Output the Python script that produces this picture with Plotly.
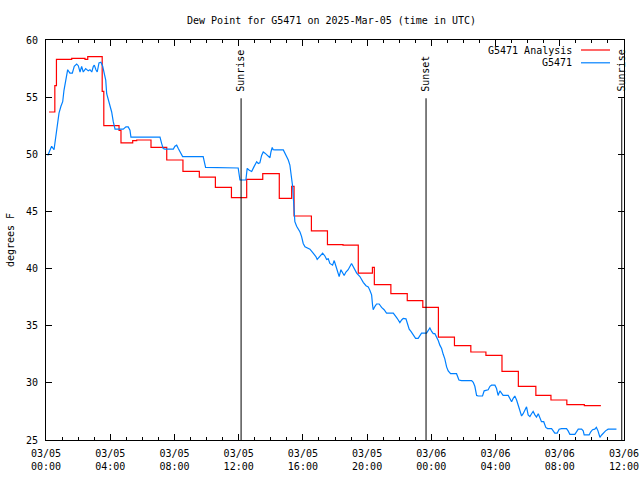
import plotly.graph_objects as go
import pandas as pd

BASE = pd.Timestamp("2025-03-05 00:00")

title_text = "Dew Point for G5471 on 2025-Mar-05 (time in UTC)"
y_title = "degrees F"
analysis_name = "G5471 Analysis"
obs_name = "G5471"

# Analysis (red), hours since 2025-03-05 00:00 UTC, stepped
red_hours = [0.19, 0.55, 0.65, 1.6, 2.43, 2.6, 3.5, 3.6, 4.55, 4.67, 5.4, 5.65, 6.54, 7.52,
             8.53, 9.55, 10.55, 11.55, 12.5, 13.5, 14.53, 15.3, 15.45, 16.53, 17.53, 18.5,
             19.45, 20.33, 20.45, 21.48, 22.5, 23.47, 24.44, 25.44, 26.46, 27.4, 28.4, 29.42,
             30.51, 31.45, 32.44, 33.53, 34.56]
red_dewpt = [53.7, 56.0, 58.3, 58.4, 58.3, 58.55, 55.5, 52.5, 52.1, 51.0, 51.2, 51.25, 50.6, 49.5,
             48.5, 48.0, 47.1, 46.2, 47.8, 48.3, 46.15, 47.2, 44.6, 43.3, 42.1, 42.05,
             39.6, 40.1, 38.6, 37.8, 37.2, 36.6, 34.0, 33.25, 32.7, 32.4, 31.0, 29.7,
             28.9, 28.5, 28.1, 28.0, 28.0]

# Observations (blue)
blue_hours = [0.11, 0.35, 0.5, 0.56, 0.70, 0.81, 0.93, 1.04, 1.12, 1.25, 1.35, 1.49, 1.64, 1.76,
              1.91, 2.01, 2.12, 2.22, 2.32, 2.47, 2.63, 2.74, 2.85, 2.95, 3.01, 3.11, 3.19, 3.30,
              3.42, 3.53, 3.61, 3.72, 3.78, 3.88, 3.99, 4.09, 4.19, 4.30, 4.81, 4.98, 5.12, 5.23,
              5.29, 7.10, 7.20, 7.30, 7.41, 7.93, 8.03, 8.14, 8.24, 8.34, 8.51, 9.79, 9.94, 11.97,
              12.08, 12.45, 12.53, 12.66, 12.81, 12.95, 13.12, 13.22, 13.32, 13.43, 13.53, 13.64,
              13.78, 13.95, 14.01, 14.09, 14.15, 14.26, 14.78, 14.88, 14.99, 15.09, 15.19, 15.26,
              15.32, 15.36, 15.40, 15.44, 15.50, 15.61, 15.71, 15.82, 15.92, 16.02, 16.13, 16.27,
              16.44, 16.64, 16.81, 16.89, 17.06, 17.23, 17.37, 17.48, 17.58, 17.68, 17.85, 17.95,
              18.06, 18.20, 18.26, 18.37, 18.47, 18.57, 18.68, 18.82, 19.03, 19.13, 19.24, 19.35,
              19.55, 19.66, 19.76, 19.93, 20.07, 20.17, 20.28, 20.34, 20.38, 20.49, 20.59, 20.75,
              20.90, 21.06, 21.21, 21.63, 21.73, 21.84, 21.94, 22.04, 22.15, 22.25, 22.42, 22.52,
              22.62, 22.73, 22.87, 23.02, 23.18, 23.29, 23.39, 23.70, 23.80, 23.91, 24.02, 24.12,
              24.22, 24.33, 24.43, 24.53, 24.64, 24.74, 24.84, 24.95, 25.05, 25.20, 25.57, 25.72,
              25.88, 26.51, 26.61, 26.71, 26.82, 26.92, 27.19, 27.29, 27.44, 27.54, 27.65, 27.75,
              27.96, 28.06, 28.16, 28.27, 28.37, 28.47, 28.79, 28.89, 29.0, 29.1, 29.2, 29.31,
              29.41, 29.51, 29.62, 29.72, 29.83, 29.93, 30.03, 30.14, 30.24, 30.34, 30.45, 30.55,
              30.66, 30.76, 30.86, 31.0, 31.13, 31.24, 31.49, 31.59, 31.69, 31.84, 31.96, 32.11,
              32.42, 32.52, 32.63, 32.94, 33.05, 33.15, 33.36, 33.46, 33.52, 33.83, 33.92, 34.04,
              34.18, 34.28, 34.38, 34.50, 34.61, 34.71, 34.85, 35.01, 35.53]
blue_dewpt = [49.9, 50.7, 50.4, 51.0, 52.4, 53.6, 54.2, 54.6, 55.6, 56.5, 57.4, 57.1, 57.1, 57.7,
              57.9, 57.75, 57.2, 57.7, 57.2, 57.5, 57.3, 57.4, 57.2, 57.7, 57.8, 57.4, 57.2, 58.0,
              58.05, 57.7, 57.1, 56.5, 55.3, 54.75, 54.2, 53.7, 52.85, 52.2, 52.2, 52.4, 52.4, 52.1,
              51.5, 51.5, 50.96, 50.5, 50.45, 50.45, 50.7, 50.8, 50.5, 50.2, 49.8, 49.8, 48.86, 48.8,
              47.75, 47.75, 48.77, 48.6, 48.5, 48.9, 49.35, 49.2, 49.25, 49.9, 50.2, 50.1,
              49.9, 49.7, 50.2, 50.6, 50.4, 50.38, 50.38, 50.1, 49.8, 49.5, 49.06, 48.3,
              47.75, 47.2, 46.3, 44.8, 44.1, 43.7, 43.5, 43.2, 42.8, 42.2, 41.9, 41.8,
              41.7, 41.35, 41.05, 40.8, 41.05, 41.35, 41.1, 40.8, 40.85, 40.45, 40.3, 40.7,
              40.2, 39.6, 39.3, 39.9, 39.7, 39.4, 39.7, 39.9, 40.45, 40.2, 39.8, 39.6,
              39.3, 39.0, 38.8, 38.5, 38.4, 38.1, 37.7, 36.8, 36.4, 36.7, 36.9, 36.9,
              36.6, 36.4, 36.1, 36.1, 35.85, 35.7, 35.5, 35.27, 35.5, 35.65, 35.6, 35.1,
              34.7, 34.5, 34.25, 33.9, 33.9, 34.2, 34.35, 34.35, 34.6, 34.8, 34.5, 34.3,
              34.3, 34.0, 33.7, 33.3, 33.0, 32.5, 32.1, 31.4, 31.05, 30.8, 30.8, 30.25,
              30.2, 30.2, 30.05, 29.7, 28.9, 28.85, 28.85, 29.3, 29.4, 29.4, 29.7, 29.8,
              29.8, 29.5, 28.9, 29.3, 29.1, 28.9, 28.9, 28.65, 28.35, 28.65, 28.85, 28.5,
              28.06, 27.5, 27.1, 27.3, 27.6, 27.9, 27.2, 27.05, 27.3, 27.5, 27.2, 27.0,
              27.3, 26.9, 26.6, 26.6, 26.1, 26.0, 26.0, 25.8, 25.6, 25.6, 25.94, 26.0,
              26.0, 25.8, 25.5, 25.5, 25.8, 25.95, 25.95, 25.8, 25.44, 25.44, 25.7, 25.9,
              25.95, 26.1, 25.8, 25.24, 25.44, 25.6, 25.8, 25.95, 25.95]

event_names = ["Sunrise", "Sunset", "Sunrise"]
event_hours = [12.15, 23.67, 35.86]
event_line_top = 54.9

y_min, y_max, y_step = 25, 60, 5
x_span_hours = 36

RED = "#ff0000"
BLUE = "#0080ff"
FONT = "DejaVu Sans Mono"


def to_time(hours):
    return [BASE + pd.Timedelta(hours=h) for h in hours]


fig = go.Figure()
fig.add_trace(go.Scatter(x=to_time(red_hours), y=red_dewpt, mode="lines",
                         line=dict(color=RED, width=1.2, shape="hv"), name=analysis_name,
                         showlegend=False))
fig.add_trace(go.Scatter(x=to_time(blue_hours), y=blue_dewpt, mode="lines",
                         line=dict(color=BLUE, width=1.2), name=obs_name, showlegend=False))

for name, h in zip(event_names, event_hours):
    t = BASE + pd.Timedelta(hours=h)
    fig.add_shape(type="line", xref="x", yref="y", x0=t, x1=t, y0=y_min, y1=event_line_top,
                  line=dict(color="black", width=1))
    fig.add_annotation(x=t, y=event_line_top + 0.4, xref="x", yref="y", text=name,
                       textangle=-90, showarrow=False, xanchor="center", yanchor="bottom",
                       font=dict(family=FONT, size=10, color="black"))

# legend drawn gnuplot-style (text, then sample line on the right)
for i, (name, col) in enumerate([(analysis_name, RED), (obs_name, BLUE)]):
    yy = 0.975 - i * 0.032
    fig.add_annotation(x=0.9135, y=yy, xref="paper", yref="paper", text=name, showarrow=False,
                       xanchor="right", yanchor="middle",
                       font=dict(family=FONT, size=10, color="black"))
    fig.add_shape(type="line", xref="paper", yref="paper", x0=0.9256, x1=0.9758, y0=yy, y1=yy,
                  line=dict(color=col, width=1.2))

fig.update_layout(
    width=640, height=480,
    margin=dict(l=46, r=16, t=40, b=40, autoexpand=False),
    paper_bgcolor="white", plot_bgcolor="white",
    font=dict(family=FONT, size=10, color="black"),
    title=dict(text=title_text, x=0.518, xref="container", y=0.957, yref="container",
               xanchor="center", yanchor="middle", font=dict(family=FONT, size=10, color="black")),
)
fig.update_xaxes(
    type="date", range=[BASE, BASE + pd.Timedelta(hours=x_span_hours)], automargin=False,
    tick0=BASE, dtick=4 * 3600000, tickformat="%m/%d<br>%H:%M",
    ticks="inside", ticklen=6, tickcolor="black", showline=True, linecolor="black",
    linewidth=1, mirror="ticks", showgrid=False, zeroline=False, ticklabelstandoff=4,
    minor=dict(dtick=3600000, ticks="inside", ticklen=3, tickcolor="black", showgrid=False),
)
fig.update_yaxes(
    range=[y_min, y_max], dtick=y_step, tick0=y_min, automargin=False,
    ticks="inside", ticklen=6, tickcolor="black", showline=True, linecolor="black",
    linewidth=1, mirror="ticks", showgrid=False, zeroline=False, ticklabelstandoff=5,
    title=dict(text=y_title, standoff=9, font=dict(family=FONT, size=10, color="black")),
)

fig.write_html("out.html")
